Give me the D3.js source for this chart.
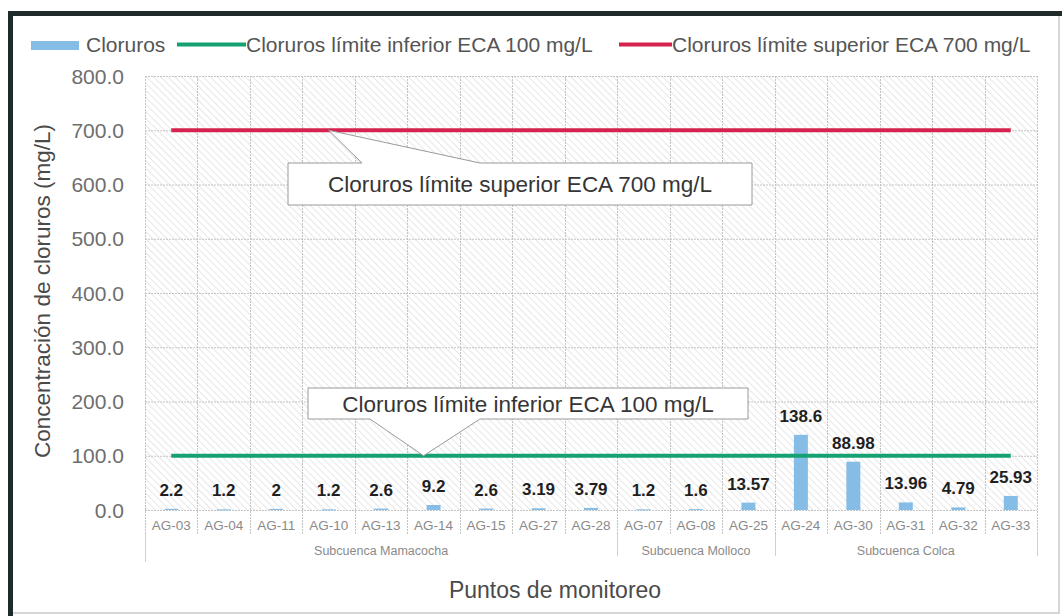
<!DOCTYPE html>
<html>
<head>
<meta charset="utf-8">
<script src="https://cdnjs.cloudflare.com/ajax/libs/d3/7.8.5/d3.min.js"></script>
<style>
  body { margin: 0; background: #fff; }
  svg { display: block; font-family: "Liberation Sans", Arial, sans-serif; }
</style>
</head>
<body>
<svg width="1062" height="616"></svg>
<script>
// datos
var puntos = ["AG-03", "AG-04", "AG-11", "AG-10", "AG-13", "AG-14", "AG-15", "AG-27", "AG-28",
              "AG-07", "AG-08", "AG-25",
              "AG-24", "AG-30", "AG-31", "AG-32", "AG-33"];
var cloruros = [2.2, 1.2, 2, 1.2, 2.6, 9.2, 2.6, 3.19, 3.79, 1.2, 1.6, 13.57, 138.6, 88.98, 13.96, 4.79, 25.93];
var etiquetas = ["2.2", "1.2", "2", "1.2", "2.6", "9.2", "2.6", "3.19", "3.79", "1.2", "1.6", "13.57",
                 "138.6", "88.98", "13.96", "4.79", "25.93"];
var subcuencas = ["Subcuenca Mamacocha", "Subcuenca Molloco", "Subcuenca Colca"];
var subcuencaN = [9, 3, 5];
var limiteInferior = 100, limiteSuperior = 700;
var yTicks = [0, 100, 200, 300, 400, 500, 600, 700, 800];

var svg = d3.select("svg"),
    margin = {top: 76, right: 25, bottom: 106, left: 145},
    width = 1062 - margin.left - margin.right,
    height = 616 - margin.top - margin.bottom,
    g = svg.append("g").attr("transform", "translate(" + margin.left + "," + margin.top + ")");

var azul = "#85bde6", verde = "#15a172", rojo = "#d6224f";

// marco exterior (escaneado: oscuro arriba/izquierda)
svg.append("rect").attr("x", 10).attr("y", 13).attr("width", 1049).attr("height", 600)
    .attr("fill", "none").attr("stroke", "#c8c8c8").attr("stroke-width", 1.5);
svg.append("line").attr("x1", 10.5).attr("x2", 10.5).attr("y1", 11).attr("y2", 616)
    .attr("stroke", "#1e2b2a").attr("stroke-width", 5);
svg.append("line").attr("x1", 8).attr("x2", 1062).attr("y1", 13.5).attr("y2", 13.5)
    .attr("stroke", "#1e2b2a").attr("stroke-width", 5);

// patron rayado del fondo
var defs = svg.append("defs");
var pat = defs.append("pattern").attr("id", "rayas").attr("patternUnits", "userSpaceOnUse")
    .attr("width", 5).attr("height", 5).attr("patternTransform", "rotate(-45)");
pat.append("line").attr("x1", 0).attr("y1", 0).attr("x2", 0).attr("y2", 5)
    .attr("stroke", "#d6d6d6").attr("stroke-width", 1.2);

var x = d3.scaleBand().domain(puntos).range([0, width]).padding(0);
var y = d3.scaleLinear().domain([0, 800]).range([height, 0]);

g.append("rect").attr("width", width).attr("height", height).attr("fill", "url(#rayas)");

// rejilla
g.append("g").selectAll("line").data(yTicks).join("line")
    .attr("x1", 0).attr("x2", width)
    .attr("y1", function(d) { return y(d) + 0.5; }).attr("y2", function(d) { return y(d) + 0.5; })
    .attr("stroke", "#c4c4c4").attr("stroke-dasharray", "2,1");
g.append("g").selectAll("line").data(puntos.concat(["fin"])).join("line")
    .attr("x1", function(d, i) { return Math.round(i * x.bandwidth()) + 0.5; })
    .attr("x2", function(d, i) { return Math.round(i * x.bandwidth()) + 0.5; })
    .attr("y1", 0).attr("y2", height + 24)
    .attr("stroke", "#c4c4c4").attr("stroke-dasharray", "2,1");

// separadores de subcuencas
var limites = [0];
subcuencaN.forEach(function(n, i) { limites.push(limites[i] + n); });
g.append("g").selectAll("line").data(limites).join("line")
    .attr("x1", function(d) { return Math.round(d * x.bandwidth()) + 0.5; })
    .attr("x2", function(d) { return Math.round(d * x.bandwidth()) + 0.5; })
    .attr("y1", height + 24).attr("y2", function(d, i) { return height + (i == 0 ? 52 : 46); })
    .attr("stroke", "#d0d0d0");

// eje y
g.append("g").selectAll("text").data(yTicks).join("text")
    .attr("x", -21).attr("y", function(d) { return y(d); }).attr("dy", "0.36em")
    .attr("text-anchor", "end").attr("fill", "#6e6e6e").attr("font-size", 21)
    .text(function(d) { return d3.format(".1f")(d); });

svg.append("text")
    .attr("transform", "translate(50," + (margin.top + height / 2 - 2) + ") rotate(-90)")
    .attr("text-anchor", "middle").attr("fill", "#4a4a4a").attr("font-size", 22.5)
    .text("Concentración de cloruros (mg/L)");

// etiquetas eje x
g.append("g").selectAll("text").data(puntos).join("text")
    .attr("x", function(d) { return x(d) + x.bandwidth() / 2; })
    .attr("y", height + 20).attr("text-anchor", "middle")
    .attr("fill", "#8a8a8a").attr("font-size", 13.5)
    .text(function(d) { return d; });

g.append("g").selectAll("text").data(subcuencas).join("text")
    .attr("x", function(d, i) { return (limites[i] + limites[i + 1]) / 2 * x.bandwidth(); })
    .attr("y", height + 45).attr("text-anchor", "middle")
    .attr("fill", "#8a8a8a").attr("font-size", 12.5)
    .text(function(d) { return d; });

svg.append("text").attr("x", 555).attr("y", 598)
    .attr("text-anchor", "middle").attr("fill", "#4a4a4a").attr("font-size", 23)
    .text("Puntos de monitoreo");

// barras
g.append("g").selectAll("rect").data(cloruros).join("rect")
    .attr("x", function(d, i) { return x(puntos[i]) + x.bandwidth() / 2 - 7; })
    .attr("width", 14)
    .attr("y", function(d) { return y(d); })
    .attr("height", function(d) { return Math.max(1, height - y(d)); })
    .attr("fill", azul);

// lineas limite
var linea = d3.line()
    .x(function(d) { return x(d.p) + x.bandwidth() / 2; })
    .y(function(d) { return y(d.v); });
[[limiteInferior, verde], [limiteSuperior, rojo]].forEach(function(l) {
  g.append("path")
      .datum(puntos.map(function(p) { return {p: p, v: l[0]}; }))
      .attr("fill", "none").attr("stroke", l[1]).attr("stroke-width", 4)
      .attr("d", linea);
});

// etiquetas de datos
g.append("g").selectAll("text").data(cloruros).join("text")
    .attr("x", function(d, i) { return x(puntos[i]) + x.bandwidth() / 2; })
    .attr("y", function(d) { return y(d) - 13; })
    .attr("text-anchor", "middle").attr("font-weight", "bold")
    .attr("fill", "#1f1f1f").attr("font-size", 17)
    .text(function(d, i) { return etiquetas[i]; });

// llamadas (callouts)
function llamada(tipX, tipY, bx, by, bw, bh, b1, b2, arriba, texto) {
  var p;
  if (arriba) {
    p = [[bx, by], [b1, by], [tipX, tipY], [b2, by], [bx + bw, by], [bx + bw, by + bh], [bx, by + bh]];
  } else {
    p = [[bx, by], [bx + bw, by], [bx + bw, by + bh], [b2, by + bh], [tipX, tipY], [b1, by + bh], [bx, by + bh]];
  }
  svg.append("path").attr("d", "M" + p.join("L") + "Z")
      .attr("fill", "#fff").attr("stroke", "#9a9a9a").attr("stroke-width", 1);
  svg.append("text").attr("x", bx + bw / 2).attr("y", by + bh / 2).attr("dy", "0.36em")
      .attr("text-anchor", "middle").attr("fill", "#353535").attr("font-size", 22.5)
      .text(texto);
}
var xs = margin.left + x("AG-10") + x.bandwidth() / 2,
    xi = margin.left + x("AG-14") + x.bandwidth() / 2 - 10;
llamada(xs, margin.top + y(limiteSuperior), 288, 163, 464, 42, 362, 480, true,
        "Cloruros límite superior ECA 700 mg/L");
llamada(xi, margin.top + y(limiteInferior), 308, 388, 440, 31, 370, 480, false,
        "Cloruros límite inferior ECA 100 mg/L");

// leyenda
var ley = svg.append("g").attr("font-size", 21).attr("fill", "#555");
ley.append("rect").attr("x", 31).attr("y", 41).attr("width", 48).attr("height", 9).attr("fill", azul);
ley.append("text").attr("x", 86).attr("y", 52).text("Cloruros");
ley.append("line").attr("x1", 177).attr("x2", 246).attr("y1", 44.5).attr("y2", 44.5)
    .attr("stroke", verde).attr("stroke-width", 4);
ley.append("text").attr("x", 246).attr("y", 52).text("Cloruros límite inferior ECA 100 mg/L");
ley.append("line").attr("x1", 619).attr("x2", 672).attr("y1", 44.5).attr("y2", 44.5)
    .attr("stroke", rojo).attr("stroke-width", 4);
ley.append("text").attr("x", 672).attr("y", 52).text("Cloruros límite superior ECA 700 mg/L");
</script>
</body>
</html>
